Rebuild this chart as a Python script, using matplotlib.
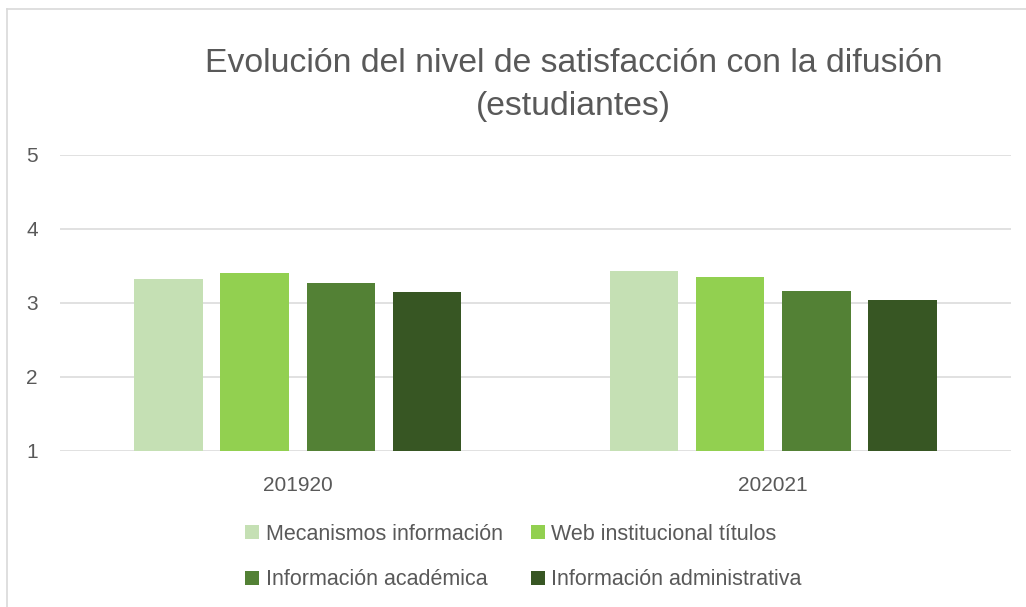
import numpy as np
import matplotlib.pyplot as plt
from matplotlib.lines import Line2D

# Data
years = ['201920', '202021']
series = ['Mecanismos información', 'Web institucional títulos',
          'Información académica', 'Información administrativa']
mecanismos = [3.33, 3.43]
web = [3.41, 3.35]
academica = [3.27, 3.16]
administrativa = [3.15, 3.04]
colors = ['#C5E0B4', '#92D050', '#538135', '#375623']

plt.rcParams['font.family'] = ['Liberation Sans', 'DejaVu Sans']
text_col = '#595959'
grid_col = '#D9D9D9'

fig = plt.figure(figsize=(10.26, 6.07), dpi=100)
ax = fig.add_axes([60 / 1026, 1 - 451 / 607, 951 / 1026, 296 / 607])

x = np.arange(len(years))
width = 0.144
step = 0.181
values = [mecanismos, web, academica, administrativa]
bars = []
for i, (vals, name, col) in enumerate(zip(values, series, colors)):
    b = ax.bar(x + (i - 1.5) * step, vals, width, color=col, label=name, zorder=3)
    bars.append(b)

ax.set_xlim(-0.5, 1.5)
ax.set_ylim(1, 5)
ax.set_yticks([1, 2, 3, 4, 5])
ax.set_xticks(x)
ax.set_xticklabels(years)
ax.grid(axis='y', color=grid_col, linewidth=1.1, zorder=0)
for s in ax.spines.values():
    s.set_visible(False)
ax.tick_params(axis='both', length=0, labelsize=15, labelcolor=text_col)
ax.tick_params(axis='y', pad=16)
ax.tick_params(axis='x', pad=18)

fig.text(0.559, 1 - 63 / 607, 'Evolución del nivel de satisfacción con la difusión',
         ha='center', va='center', fontsize=24.3, color=text_col)
fig.text(0.559, 1 - 106 / 607, '(estudiantes)',
         ha='center', va='center', fontsize=24.3, color=text_col)

# legend filled row by row like the original
order = [0, 2, 1, 3]
fig.legend([bars[i] for i in order], [series[i] for i in order],
           loc='center', bbox_to_anchor=(0.51, 1 - 557 / 607), ncol=2,
           frameon=False, fontsize=15.5, labelcolor=text_col,
           handlelength=0.65, handleheight=0.65, handletextpad=0.3,
           columnspacing=1.3, labelspacing=1.15)

# chart area border (top and left visible)
fig.add_artist(Line2D([7 / 1026, 1], [1 - 9 / 607, 1 - 9 / 607],
                      transform=fig.transFigure, color=grid_col, lw=1.2))
fig.add_artist(Line2D([7 / 1026, 7 / 1026], [0, 1 - 9 / 607],
                      transform=fig.transFigure, color=grid_col, lw=1.2))

fig.savefig('out.png', dpi=100)
